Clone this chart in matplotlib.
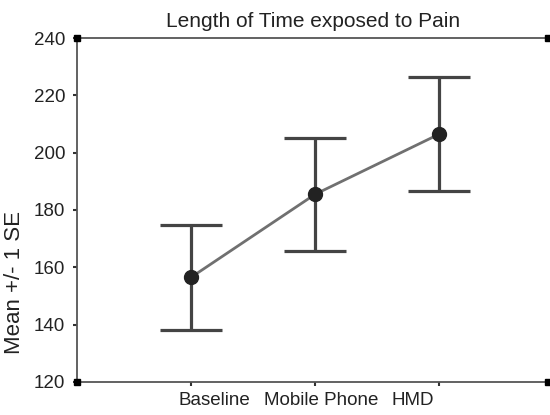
import matplotlib
matplotlib.use("Agg")
import matplotlib.pyplot as plt
from matplotlib.transforms import ScaledTranslation

# data
groups = ["Baseline", "Mobile Phone", "HMD"]
means = [156.5, 185.5, 206.5]
se = [18.4, 19.8, 20.0]
xpos = [1, 2, 3]

plt.rcParams['font.family'] = ['Liberation Sans', 'DejaVu Sans']

fig = plt.figure(figsize=(5.5, 4.15), dpi=100)
ax = fig.add_axes([0.14, 0.08, 0.857, 0.828])

ax.errorbar(xpos, means, yerr=se, fmt='none', ecolor='#444444',
            elinewidth=2.3, capsize=22, capthick=2.3, zorder=2)
ax.plot(xpos, means, color='#707070', lw=2, zorder=3)
ax.plot(xpos, means, 'o', color='#222222', ms=10, zorder=4)

ax.set_xlim(0.08, 3.88)
ax.set_ylim(120, 240)
ax.set_yticks([120, 140, 160, 180, 200, 220, 240])
ax.set_xticks(xpos)
ax.set_xticklabels(groups)
ax.tick_params(axis='both', direction='out', length=3, width=1.5,
               colors='#333333', labelsize=13.5, labelcolor='#222222')
ax.tick_params(axis='y', pad=5.5)
ax.tick_params(axis='x', pad=4)

# the x labels in the reference sit bunched towards the middle
shifts = [0.23, 0.06, -0.26]
for lab, dx in zip(ax.get_xticklabels(), shifts):
    lab.set_transform(lab.get_transform() + ScaledTranslation(dx, 0, fig.dpi_scale_trans))

for side in ['left', 'bottom', 'top']:
    ax.spines[side].set_color('#555555')
    ax.spines[side].set_linewidth(1.3)
ax.spines['right'].set_visible(False)

# small black squares at the corners
for cx, cy in [(0, 0), (0, 1), (1, 0), (1, 1)]:
    ax.plot(cx, cy, 's', color='black', ms=4.5, transform=ax.transAxes,
            clip_on=False, zorder=5)

ax.set_title("Length of Time exposed to Pain", fontsize=15, color='#222222', pad=8)
fig.text(0.027, 1 - 282 / 415, "Mean +/- 1 SE", rotation=90, fontsize=16,
         color='#222222', ha='center', va='center')

fig.savefig("out.png", dpi=100)
